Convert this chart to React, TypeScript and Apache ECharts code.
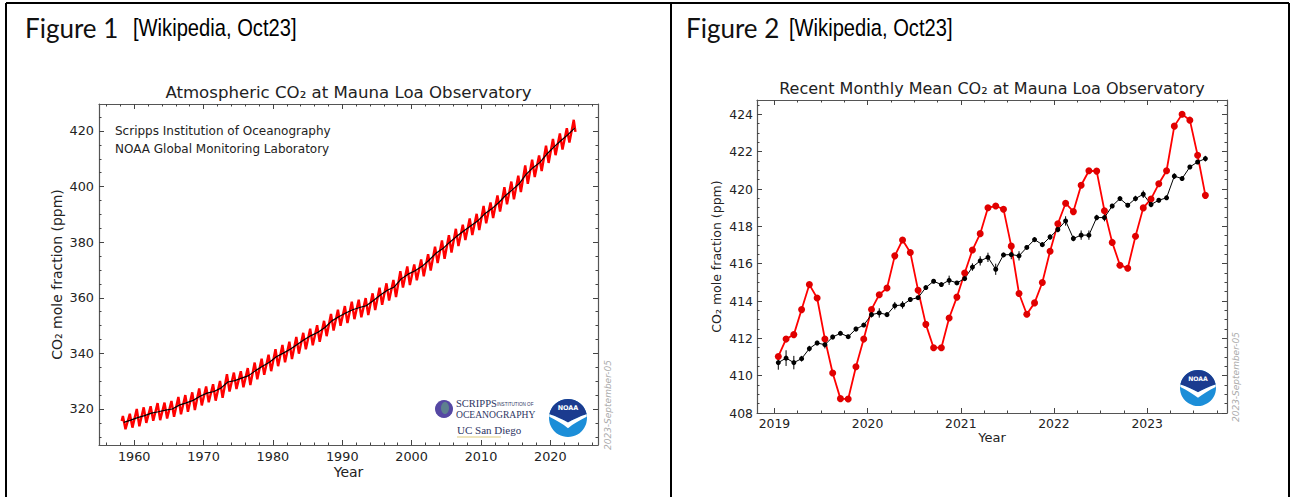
import React, { useEffect, useRef } from "react";
import * as echarts from "echarts";

// ---------------- Figure 1: Mauna Loa record 1958-2023 ----------------
const years = [
  1958, 1959, 1960, 1961, 1962, 1963, 1964, 1965, 1966, 1967, 1968, 1969,
  1970, 1971, 1972, 1973, 1974, 1975, 1976, 1977, 1978, 1979, 1980, 1981,
  1982, 1983, 1984, 1985, 1986, 1987, 1988, 1989, 1990, 1991, 1992, 1993,
  1994, 1995, 1996, 1997, 1998, 1999, 2000, 2001, 2002, 2003, 2004, 2005,
  2006, 2007, 2008, 2009, 2010, 2011, 2012, 2013, 2014, 2015, 2016, 2017,
  2018, 2019, 2020, 2021, 2022, 2023,
];
// seasonal maximum (May) of each year
const peakCO2 = [
  317.5, 318.3, 320.0, 320.6, 321.0, 322.1, 322.3, 322.9, 324.3, 325.0, 326.0, 327.4,
  328.1, 328.9, 330.1, 332.5, 333.1, 333.6, 334.7, 336.7, 338.1, 339.5, 341.5, 343.0,
  344.2, 345.9, 347.4, 348.9, 350.1, 351.7, 354.2, 355.7, 357.0, 358.6, 359.3, 359.9,
  361.6, 363.6, 365.2, 366.4, 369.6, 371.3, 372.0, 373.8, 375.7, 378.4, 380.6, 382.5,
  384.8, 386.3, 388.5, 390.2, 393.0, 394.3, 396.8, 399.8, 401.8, 403.9, 407.6, 409.7,
  411.2, 414.7, 417.1, 419.1, 421.0, 424.0,
];
// seasonal minimum (Sep/Oct) of each year
const troughCO2: (number | null)[] = [
  312.7, 313.3, 313.8, 315.0, 315.8, 316.0, 316.6, 317.2, 318.1, 319.0, 319.6, 321.3,
  322.4, 323.0, 324.0, 326.3, 327.2, 327.8, 328.6, 330.7, 332.3, 333.6, 335.4, 336.8,
  338.0, 339.9, 341.5, 342.9, 344.2, 346.2, 348.2, 349.9, 350.9, 352.3, 353.0, 353.8,
  355.6, 357.5, 359.0, 360.3, 363.7, 364.6, 366.3, 367.7, 369.8, 372.5, 374.0, 376.3,
  378.6, 380.8, 382.6, 384.4, 386.8, 388.7, 391.0, 393.6, 395.4, 398.0, 401.0, 403.4,
  405.6, 408.5, 411.3, 413.3, 415.8, null,
];
// de-seasonalised trend (annual mean)
const annualMean = [
  315.2, 316.0, 316.9, 317.6, 318.5, 319.0, 319.6, 320.0, 321.4, 322.2, 323.1, 324.6,
  325.7, 326.3, 327.5, 329.7, 330.2, 331.1, 332.0, 333.8, 335.4, 336.8, 338.8, 340.1,
  341.5, 343.2, 344.9, 346.4, 347.6, 349.3, 351.7, 353.2, 354.5, 355.7, 356.5, 357.2,
  359.0, 361.0, 362.7, 363.9, 366.8, 368.5, 369.7, 371.3, 373.5, 376.0, 377.7, 380.0,
  382.1, 384.0, 385.8, 387.6, 390.1, 391.9, 394.1, 396.7, 398.8, 401.0, 404.4, 406.8,
  408.7, 411.7, 414.2, 416.5, 418.6, 421.0,
];
const firstObs = [1958.2, 315.7];
const lastObs = [2023.62, 419.7];

const fig1XTicks = [1960, 1970, 1980, 1990, 2000, 2010, 2020];
const fig1XMinor = [
  1956, 1958, 1962, 1964, 1966, 1968, 1972, 1974, 1976, 1978, 1982, 1984, 1986, 1988,
  1992, 1994, 1996, 1998, 2002, 2004, 2006, 2008, 2012, 2014, 2016, 2018, 2022, 2024, 2026,
];
const fig1YTicks = [320, 340, 360, 380, 400, 420];
const fig1YMinor = [
  310, 315, 325, 330, 335, 345, 350, 355, 365, 370, 375, 385, 390, 395, 405, 410, 415, 425,
];

// ---------------- Figure 2: monthly Jan 2019 - Aug 2023 ----------------
const monthYears = [
  2019, 2019, 2019, 2019, 2019, 2019, 2019, 2019, 2019, 2019, 2019, 2019,
  2020, 2020, 2020, 2020, 2020, 2020, 2020, 2020, 2020, 2020, 2020, 2020,
  2021, 2021, 2021, 2021, 2021, 2021, 2021, 2021, 2021, 2021, 2021, 2021,
  2022, 2022, 2022, 2022, 2022, 2022, 2022, 2022, 2022, 2022, 2022, 2022,
  2023, 2023, 2023, 2023, 2023, 2023, 2023, 2023,
];
const monthNums = [
  1, 2, 3, 4, 5, 6, 7, 8, 9, 10, 11, 12,
  1, 2, 3, 4, 5, 6, 7, 8, 9, 10, 11, 12,
  1, 2, 3, 4, 5, 6, 7, 8, 9, 10, 11, 12,
  1, 2, 3, 4, 5, 6, 7, 8, 9, 10, 11, 12,
  1, 2, 3, 4, 5, 6, 7, 8,
];
const monthlyMean = [
  411.03, 411.96, 412.2, 413.54, 414.88, 414.16, 411.96, 410.14, 408.77, 408.75, 410.48, 411.96,
  413.55, 414.34, 414.7, 416.42, 417.27, 416.6, 414.58, 412.75, 411.5, 411.5, 413.09, 414.21,
  415.5, 416.73, 417.61, 419.0, 419.09, 418.92, 416.94, 414.4, 413.29, 413.9, 414.99, 416.67,
  418.14, 419.24, 418.79, 420.2, 420.98, 420.96, 418.84, 417.14, 415.92, 415.76, 417.47, 418.99,
  419.47, 420.28, 420.98, 423.37, 424.01, 423.69, 421.81, 419.66,
];
const trendMean = [
  410.7, 410.94, 410.7, 410.91, 411.45, 411.75, 411.66, 412.07, 412.27, 412.09, 412.5, 412.71,
  413.27, 413.36, 413.27, 413.75, 413.79, 414.08, 414.18, 414.72, 415.06, 414.88, 415.11, 414.97,
  415.2, 415.82, 416.15, 416.34, 415.7, 416.47, 416.49, 416.42, 416.87, 417.29, 417.02, 417.43,
  417.83, 418.29, 417.35, 417.53, 417.53, 418.47, 418.47, 419.09, 419.49, 419.13, 419.49, 419.72,
  419.17, 419.4, 419.53, 420.69, 420.56, 421.18, 421.45, 421.63,
];
const trendUnc = [
  0.38, 0.42, 0.36, 0.15, 0.15, 0.12, 0.2, 0.12, 0.1, 0.1, 0.12, 0.1,
  0.15, 0.25, 0.12, 0.2, 0.2, 0.1, 0.1, 0.1, 0.1, 0.1, 0.25, 0.1,
  0.1, 0.2, 0.25, 0.25, 0.3, 0.12, 0.25, 0.25, 0.1, 0.12, 0.1, 0.15,
  0.15, 0.25, 0.15, 0.25, 0.25, 0.15, 0.2, 0.1, 0.1, 0.1, 0.15, 0.2,
  0.15, 0.12, 0.12, 0.15, 0.12, 0.1, 0.1, 0.15,
];

const fig2XTicks = [2019, 2020, 2021, 2022, 2023];
const fig2XMinor = [
  2019.25, 2019.5, 2019.75, 2020.25, 2020.5, 2020.75, 2021.25, 2021.5, 2021.75,
  2022.25, 2022.5, 2022.75, 2023.25, 2023.5, 2023.75,
];
const fig2YTicks = [408, 410, 412, 414, 416, 418, 420, 422, 424];
const fig2YMinor = [
  408.5, 409, 409.5, 410.5, 411, 411.5, 412.5, 413, 413.5, 414.5, 415, 415.5,
  416.5, 417, 417.5, 418.5, 419, 419.5, 420.5, 421, 421.5, 422.5, 423, 423.5, 424.5,
];

// ---------------- shapes ----------------
let shapesRegistered = false;
function registerShapes() {
  if (shapesRegistered) return;
  shapesRegistered = true;
  echarts.graphic.registerShape(
    "noaaCap",
    echarts.graphic.extendPath(
      "M -49 -10 A 50 50 0 0 1 49 -10 C 30 -4 14 4 0 12 C -14 4 -30 -4 -49 -10 Z",
      {}
    )
  );
  echarts.graphic.registerShape(
    "noaaBird",
    echarts.graphic.extendPath(
      "M -49 -10 C -30 -4 -14 4 0 12 C 14 4 30 -4 49 -10 L 49 -3 C 30 6 14 16 0 27 C -14 16 -30 6 -49 -3 Z",
      {}
    )
  );
}

const FONT = "DejaVu Sans, sans-serif";
const TXT = "#222";

function noaaLogo(cx: number, cy: number, r: number) {
  const s = r / 50;
  return {
    type: "group",
    x: cx,
    y: cy,
    scaleX: s,
    scaleY: s,
    children: [
      { type: "circle", shape: { cx: 0, cy: 0, r: 50 }, style: { fill: "#1c8ed8" } },
      { type: "noaaCap", style: { fill: "#1b3b8f" } },
      { type: "noaaBird", style: { fill: "#ffffff" } },
      {
        type: "text",
        x: 0,
        y: -27,
        style: {
          text: "NOAA",
          fill: "#ffffff",
          font: "bold 17px DejaVu Sans",
          align: "center",
          verticalAlign: "middle",
        },
      },
    ],
  };
}

function makeAxis(
  gridIndex: number,
  min: number,
  max: number,
  position: string,
  values: number[],
  len: number,
  labels: boolean,
  line: boolean,
  fontSize: number,
  margin: number
) {
  return {
    type: "value",
    gridIndex,
    min,
    max,
    position,
    axisLine: { show: line, onZero: false, lineStyle: { color: "#555", width: 1.2 } },
    axisTick: {
      show: true,
      inside: true,
      length: len,
      customValues: values,
      lineStyle: { color: "#444", width: 1 },
    },
    axisLabel: {
      show: labels,
      customValues: values,
      formatter: (v: number) => String(v),
      color: TXT,
      fontFamily: FONT,
      fontSize,
      margin,
    },
    splitLine: { show: false },
    minorTick: { show: false },
  };
}

function txt(x: number, y: number, text: string, font: string, extra: any = {}) {
  return {
    type: "text",
    x,
    y,
    ...extra.el,
    style: {
      text,
      font,
      fill: extra.fill || TXT,
      align: extra.align || "center",
      verticalAlign: "middle",
    },
  };
}

export default function App() {
  const ref = useRef<HTMLDivElement>(null);

  useEffect(() => {
    if (!ref.current) return;
    registerShapes();
    const chart = echarts.init(ref.current, null, { renderer: "svg" });

    // Figure 1 series data
    const red1: number[][] = [firstObs];
    years.forEach((y, i) => {
      red1.push([y + 0.375, peakCO2[i]]);
      const t = troughCO2[i];
      if (t !== null) red1.push([y + 0.75, t]);
    });
    red1.push(lastObs);
    const black1 = years.map((y, i) => [y + 0.5, annualMean[i]]);

    // Figure 2 series data
    const mx = monthYears.map((y, i) => y + (monthNums[i] - 0.5) / 12);
    const red2 = mx.map((x, i) => [x, monthlyMean[i]]);
    const black2 = mx.map((x, i) => [x, trendMean[i]]);
    const err2 = mx.map((x, i) => [x, trendMean[i] - trendUnc[i], trendMean[i] + trendUnc[i]]);

    const x1min = 1954.93, x1max = 2026.87, y1min = 307.05, y1max = 429.7;
    const x2min = 2018.813, x2max = 2023.857, y2min = 408, y2max = 424.77;

    const xAxis = [
      makeAxis(0, x1min, x1max, "bottom", fig1XTicks, 5, true, true, 12.8, 5),
      makeAxis(0, x1min, x1max, "bottom", fig1XMinor, 2.5, false, false, 12, 5),
      makeAxis(0, x1min, x1max, "top", fig1XTicks, 5, false, true, 12, 5),
      makeAxis(0, x1min, x1max, "top", fig1XMinor, 2.5, false, false, 12, 5),
      makeAxis(1, x2min, x2max, "bottom", fig2XTicks, 5, true, true, 12.4, 4),
      makeAxis(1, x2min, x2max, "bottom", fig2XMinor, 2.5, false, false, 12, 4),
      makeAxis(1, x2min, x2max, "top", fig2XTicks, 5, false, true, 12, 4),
      makeAxis(1, x2min, x2max, "top", fig2XMinor, 2.5, false, false, 12, 4),
    ];
    const yAxis = [
      makeAxis(0, y1min, y1max, "left", fig1YTicks, 5, true, true, 12.8, 5),
      makeAxis(0, y1min, y1max, "left", fig1YMinor, 2.5, false, false, 12, 5),
      makeAxis(0, y1min, y1max, "right", fig1YTicks, 5, false, true, 12, 5),
      makeAxis(0, y1min, y1max, "right", fig1YMinor, 2.5, false, false, 12, 5),
      makeAxis(1, y2min, y2max, "left", fig2YTicks, 5, true, true, 12.4, 4),
      makeAxis(1, y2min, y2max, "left", fig2YMinor, 2.5, false, false, 12, 4),
      makeAxis(1, y2min, y2max, "right", fig2YTicks, 5, false, true, 12, 4),
      makeAxis(1, y2min, y2max, "right", fig2YMinor, 2.5, false, false, 12, 4),
    ];

    const border = { stroke: "#000", lineWidth: 2 };
    const figFont = "26px Lato, 'Open Sans', sans-serif";
    const refFont = "24px 'Liberation Sans', Arial, sans-serif";

    const graphicEls: any[] = [
      // table borders
      { type: "line", shape: { x1: 6, y1: 3, x2: 1289, y2: 3 }, style: border },
      { type: "line", shape: { x1: 6, y1: 3, x2: 6, y2: 497 }, style: border },
      { type: "line", shape: { x1: 671, y1: 3, x2: 671, y2: 497 }, style: border },
      { type: "line", shape: { x1: 1289, y1: 3, x2: 1289, y2: 497 }, style: border },
      // figure captions
      txt(25, 28, "Figure 1", figFont, { align: "left", fill: "#111" }),
      {
        type: "text",
        x: 133,
        y: 28,
        scaleX: 0.84,
        style: { text: "[Wikipedia, Oct23]", font: refFont, fill: "#000", align: "left", verticalAlign: "middle" },
      },
      txt(686, 28, "Figure 2", figFont, { align: "left", fill: "#111" }),
      {
        type: "text",
        x: 789,
        y: 28,
        scaleX: 0.84,
        style: { text: "[Wikipedia, Oct23]", font: refFont, fill: "#000", align: "left", verticalAlign: "middle" },
      },
      // Figure 1 texts
      txt(348.5, 92, "Atmospheric CO₂ at Mauna Loa Observatory", `16.6px ${FONT}`),
      txt(348.5, 472, "Year", `14px ${FONT}`),
      txt(57, 274.5, "CO₂ mole fraction (ppm)", `14px ${FONT}`, { el: { rotation: Math.PI / 2 } }),
      txt(115, 131, "Scripps Institution of Oceanography", `12px ${FONT}`, { align: "left" }),
      txt(115, 149, "NOAA Global Monitoring Laboratory", `12px ${FONT}`, { align: "left" }),
      txt(608, 405, "2023-September-05", `italic 9px ${FONT}`, {
        fill: "#aaa",
        el: { rotation: Math.PI / 2 },
      }),
      // Scripps logo
      { type: "circle", shape: { cx: 444, cy: 409, r: 9 }, style: { fill: "#5548a3" } },
      { type: "ellipse", shape: { cx: 445, cy: 408, rx: 4, ry: 6 }, style: { fill: "#5f8f8a", opacity: 0.8 } },
      txt(456, 403, "SCRIPPS", "10.5px 'Liberation Serif', serif", { align: "left", fill: "#2e3563" }),
      txt(497, 404.5, "INSTITUTION OF", "4.6px 'Liberation Sans', sans-serif", { align: "left", fill: "#2e3563" }),
      txt(456, 414, "OCEANOGRAPHY", "9.6px 'Liberation Serif', serif", { align: "left", fill: "#2e3563" }),
      txt(457, 430, "UC San Diego", "11px 'Liberation Serif', serif", { align: "left", fill: "#2e3563" }),
      { type: "line", shape: { x1: 457, y1: 437, x2: 501, y2: 437 }, style: { stroke: "#eadca8", lineWidth: 1.5 } },
      noaaLogo(568, 418, 19),
      // Figure 2 texts
      txt(992, 88, "Recent Monthly Mean CO₂ at Mauna Loa Observatory", `16px ${FONT}`),
      txt(992, 437, "Year", `13px ${FONT}`),
      txt(716, 256.5, "CO₂ mole fraction (ppm)", `12.5px ${FONT}`, { el: { rotation: Math.PI / 2 } }),
      txt(1236, 377, "2023-September-05", `italic 9px ${FONT}`, {
        fill: "#aaa",
        el: { rotation: Math.PI / 2 },
      }),
      noaaLogo(1198, 388, 18),
    ];

    chart.setOption({
      animation: false,
      backgroundColor: "#ffffff",
      grid: [
        { left: 99, top: 104, width: 499, height: 341, show: false },
        { left: 757, top: 100, width: 470, height: 313, show: false },
      ],
      xAxis,
      yAxis,
      series: [
        {
          type: "line",
          xAxisIndex: 0,
          yAxisIndex: 0,
          data: red1,
          showSymbol: false,
          lineStyle: { color: "#ff0000", width: 2.4 },
          silent: true,
        },
        {
          type: "line",
          xAxisIndex: 0,
          yAxisIndex: 0,
          data: black1,
          showSymbol: false,
          lineStyle: { color: "#000", width: 1.2 },
          silent: true,
        },
        {
          type: "line",
          xAxisIndex: 4,
          yAxisIndex: 4,
          data: red2,
          symbol: "circle",
          symbolSize: 7,
          itemStyle: { color: "#e00000" },
          lineStyle: { color: "#ff0000", width: 1.8 },
          silent: true,
        },
        {
          type: "custom",
          xAxisIndex: 4,
          yAxisIndex: 4,
          data: err2,
          encode: { x: 0, y: [1, 2] },
          silent: true,
          renderItem: (params: any, api: any) => {
            const x = api.value(0);
            const p1 = api.coord([x, api.value(1)]);
            const p2 = api.coord([x, api.value(2)]);
            return {
              type: "line",
              shape: { x1: p1[0], y1: p1[1], x2: p2[0], y2: p2[1] },
              style: { stroke: "#000", lineWidth: 1 },
            };
          },
        },
        {
          type: "line",
          xAxisIndex: 4,
          yAxisIndex: 4,
          data: black2,
          symbol: "circle",
          symbolSize: 5,
          itemStyle: { color: "#000" },
          lineStyle: { color: "#000", width: 1 },
          silent: true,
        },
      ],
      graphic: { elements: graphicEls },
    });

    return () => chart.dispose();
  }, []);

  return (
    <div
      ref={ref}
      style={{ position: "fixed", left: 0, top: 0, width: 1292, height: 497, background: "#fff" }}
    />
  );
}
